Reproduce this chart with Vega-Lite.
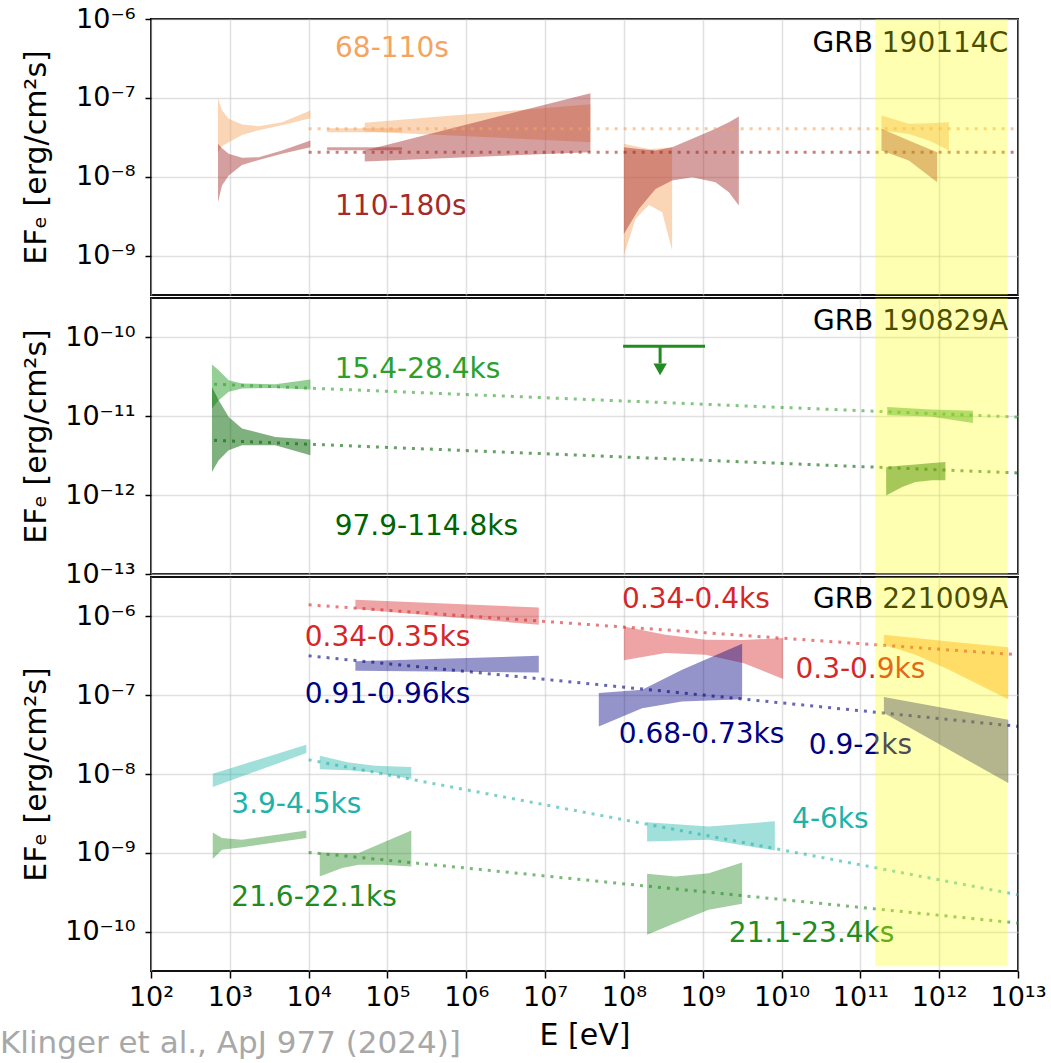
{
"$schema": "https://vega.github.io/schema/vega-lite/v6.json",
"background": "white",
"padding": {"left": 0, "top": 4, "right": 0, "bottom": 0},
"title": {"text": "Klinger et al., ApJ 977 (2024)]", "orient": "bottom", "anchor": "start", "frame": "bounds", "fontSize": 31, "font": "DejaVu Sans", "fontWeight": "normal", "color": "#a8a8a8", "dx": -20, "offset": -22},
"spacing": 3,
"bounds": "flush",
"datasets": {
"areas": [
{"p":1,"id":"o1","s":"o","E":708,"hi":9.91e-8,"lo":2.05e-8},{"p":1,"id":"o1","s":"o","E":796,"hi":6.98e-8,"lo":2.44e-8},{"p":1,"id":"o1","s":"o","E":968,"hi":5.42e-8,"lo":2.74e-8},{"p":1,"id":"o1","s":"o","E":1429,"hi":4.59e-8,"lo":3.39e-8},{"p":1,"id":"o1","s":"o","E":2328,"hi":4.38e-8,"lo":3.89e-8},{"p":1,"id":"o1","s":"o","E":4592,"hi":4.92e-8,"lo":4.51e-8},{"p":1,"id":"o1","s":"o","E":10520,"hi":6.92e-8,"lo":5.52e-8},
{"p":1,"id":"r1","s":"r","E":708,"hi":2.61e-8,"lo":4.74e-9},{"p":1,"id":"r1","s":"r","E":796,"hi":2.30e-8,"lo":7.73e-9},{"p":1,"id":"r1","s":"r","E":968,"hi":1.95e-8,"lo":1.035e-8},{"p":1,"id":"r1","s":"r","E":1429,"hi":1.74e-8,"lo":1.41e-8},{"p":1,"id":"r1","s":"r","E":2328,"hi":1.77e-8,"lo":1.63e-8},{"p":1,"id":"r1","s":"r","E":4592,"hi":2.15e-8,"lo":1.95e-8},{"p":1,"id":"r1","s":"r","E":10520,"hi":2.88e-8,"lo":2.37e-8},
{"p":1,"id":"o2","s":"o","E":17140,"hi":4.12e-8,"lo":3.67e-8},{"p":1,"id":"o2","s":"o","E":153100,"hi":4.12e-8,"lo":3.67e-8},
{"p":1,"id":"r2","s":"r","E":17140,"hi":2.37e-8,"lo":2.17e-8},{"p":1,"id":"r2","s":"r","E":153100,"hi":2.37e-8,"lo":2.17e-8},
{"p":1,"id":"o3","s":"o","E":51520,"hi":4.82e-8,"lo":3.75e-8},{"p":1,"id":"o3","s":"o","E":3.758e7,"hi":8.32e-8,"lo":2.74e-8},
{"p":1,"id":"r3","s":"r","E":51520,"hi":2.15e-8,"lo":1.56e-8},{"p":1,"id":"r3","s":"r","E":3.758e7,"hi":1.148e-7,"lo":2.05e-8},
{"p":1,"id":"o4","s":"o","E":1e8,"hi":2.61e-8,"lo":1e-9},{"p":1,"id":"o4","s":"o","E":1.403e8,"hi":2.44e-8,"lo":2.91e-9},{"p":1,"id":"o4","s":"o","E":2.075e8,"hi":2.25e-8,"lo":4.39e-9},{"p":1,"id":"o4","s":"o","E":3.06e8,"hi":2.30e-8,"lo":3.54e-9},{"p":1,"id":"o4","s":"o","E":4.09e8,"hi":2.37e-8,"lo":1.156e-9},
{"p":1,"id":"r4","s":"r","E":1e8,"hi":2.37e-8,"lo":1.88e-9},{"p":1,"id":"r4","s":"r","E":1.549e8,"hi":2.25e-8,"lo":3.9e-9},{"p":1,"id":"r4","s":"r","E":2.518e8,"hi":2.15e-8,"lo":7.0e-9},{"p":1,"id":"r4","s":"r","E":4.09e8,"hi":2.37e-8,"lo":8.95e-9},{"p":1,"id":"r4","s":"r","E":7.35e8,"hi":3.02e-8,"lo":9.86e-9},{"p":1,"id":"r4","s":"r","E":1.452e9,"hi":4.05e-8,"lo":8.51e-9},{"p":1,"id":"r4","s":"r","E":2.148e9,"hi":4.92e-8,"lo":6.35e-9},{"p":1,"id":"r4","s":"r","E":2.871e9,"hi":5.81e-8,"lo":4.32e-9},
{"p":1,"id":"o5","s":"o","E":1.854e11,"hi":5.98e-8,"lo":3.85e-8},{"p":1,"id":"o5","s":"o","E":4.12e11,"hi":4.68e-8,"lo":3.49e-8},{"p":1,"id":"o5","s":"o","E":7.4e11,"hi":4.78e-8,"lo":2.88e-8},{"p":1,"id":"o5","s":"o","E":1.327e12,"hi":4.91e-8,"lo":2.15e-8},
{"p":1,"id":"r5","s":"r","E":1.854e11,"hi":4.05e-8,"lo":2.15e-8},{"p":1,"id":"r5","s":"r","E":4.12e11,"hi":2.88e-8,"lo":1.61e-8},{"p":1,"id":"r5","s":"r","E":9.44e11,"hi":2.05e-8,"lo":8.51e-9},
{"p":2,"id":"g1","s":"lg","E":594,"hi":4.53e-11,"lo":1.253e-11},{"p":2,"id":"g1","s":"lg","E":723,"hi":3.84e-11,"lo":1.596e-11},{"p":2,"id":"g1","s":"lg","E":968,"hi":2.86e-11,"lo":2.04e-11},{"p":2,"id":"g1","s":"lg","E":1429,"hi":2.6e-11,"lo":2.25e-11},{"p":2,"id":"g1","s":"lg","E":3776,"hi":2.55e-11,"lo":2.29e-11},{"p":2,"id":"g1","s":"lg","E":10520,"hi":2.92e-11,"lo":2.18e-11},
{"p":2,"id":"d1","s":"dg","E":594,"hi":2.36e-11,"lo":1.968e-12},{"p":2,"id":"d1","s":"dg","E":723,"hi":1.596e-11,"lo":2.77e-12},{"p":2,"id":"d1","s":"dg","E":968,"hi":9.82e-12,"lo":3.71e-12},{"p":2,"id":"d1","s":"dg","E":1429,"hi":6.98e-12,"lo":4.29e-12},{"p":2,"id":"d1","s":"dg","E":3776,"hi":5.47e-12,"lo":4.29e-12},{"p":2,"id":"d1","s":"dg","E":10520,"hi":5.06e-12,"lo":3.2e-12},
{"p":2,"id":"g2","s":"lg","E":2.188e11,"hi":1.315e-11,"lo":1.03e-11},{"p":2,"id":"g2","s":"lg","E":7.69e11,"hi":1.216e-11,"lo":9.91e-12},{"p":2,"id":"g2","s":"lg","E":2.68e12,"hi":1.172e-11,"lo":8.24e-12},
{"p":2,"id":"d2","s":"dg","E":2.123e11,"hi":2.28e-12,"lo":9.93e-13},{"p":2,"id":"d2","s":"dg","E":3.39e11,"hi":2.37e-12,"lo":1.27e-12},{"p":2,"id":"d2","s":"dg","E":5.0e11,"hi":2.44e-12,"lo":1.47e-12},{"p":2,"id":"d2","s":"dg","E":8.15e11,"hi":2.55e-12,"lo":1.54e-12},{"p":2,"id":"d2","s":"dg","E":1.2e12,"hi":2.64e-12,"lo":1.54e-12},
{"p":3,"id":"R1","s":"R","E":39170,"hi":1.626e-6,"lo":1.239e-6},{"p":3,"id":"R1","s":"R","E":8.318e6,"hi":1.3e-6,"lo":7.82e-7},
{"p":3,"id":"R2","s":"R","E":1e8,"hi":7.46e-7,"lo":2.77e-7},{"p":3,"id":"R2","s":"R","E":3.365e8,"hi":5.85e-7,"lo":3.42e-7},{"p":3,"id":"R2","s":"R","E":1.084e9,"hi":5.05e-7,"lo":3.26e-7},{"p":3,"id":"R2","s":"R","E":3.327e9,"hi":5.0e-7,"lo":2.55e-7},{"p":3,"id":"R2","s":"R","E":1.047e10,"hi":5.31e-7,"lo":1.6e-7},
{"p":3,"id":"B1","s":"B","E":39170,"hi":2.69e-7,"lo":2.04e-7},{"p":3,"id":"B1","s":"B","E":8.318e6,"hi":3.16e-7,"lo":1.945e-7},
{"p":3,"id":"B2","s":"B","E":4.8e7,"hi":1.064e-7,"lo":4.02e-8},{"p":3,"id":"B2","s":"B","E":1.702e8,"hi":1.172e-7,"lo":6.85e-8},{"p":3,"id":"B2","s":"B","E":5.47e8,"hi":2.1e-7,"lo":8.34e-8},{"p":3,"id":"B2","s":"B","E":3.162e9,"hi":4.49e-7,"lo":8.91e-8},
{"p":3,"id":"O1","s":"O","E":1.986e11,"hi":5.85e-7,"lo":4.37e-7},{"p":3,"id":"O1","s":"O","E":5.0e11,"hi":5.31e-7,"lo":3.26e-7},{"p":3,"id":"O1","s":"O","E":1.327e12,"hi":4.79e-7,"lo":2.1e-7},{"p":3,"id":"O1","s":"O","E":7.52e12,"hi":4.07e-7,"lo":8.91e-8},
{"p":3,"id":"B3","s":"B","E":1.986e11,"hi":9.46e-8,"lo":5.93e-8},{"p":3,"id":"B3","s":"B","E":7.52e12,"hi":4.88e-8,"lo":7.67e-9},
{"p":3,"id":"T1","s":"T","E":607,"hi":1.007e-8,"lo":6.82e-9},{"p":3,"id":"T1","s":"T","E":9354,"hi":2.35e-8,"lo":1.845e-8},
{"p":3,"id":"T2","s":"T","E":13840,"hi":1.7e-8,"lo":1.153e-8},{"p":3,"id":"T2","s":"T","E":32280,"hi":1.403e-8,"lo":1.112e-8},{"p":3,"id":"T2","s":"T","E":70150,"hi":1.271e-8,"lo":1.047e-8},{"p":3,"id":"T2","s":"T","E":200900,"hi":1.225e-8,"lo":8.61e-9},
{"p":3,"id":"T3","s":"T","E":1.968e8,"hi":2.45e-9,"lo":1.396e-9},{"p":3,"id":"T3","s":"T","E":1.194e9,"hi":2.16e-9,"lo":1.462e-9},{"p":3,"id":"T3","s":"T","E":8.22e9,"hi":2.51e-9,"lo":1.072e-9},
{"p":3,"id":"G1","s":"G","E":607,"hi":1.816e-9,"lo":8.32e-10},{"p":3,"id":"G1","s":"G","E":796,"hi":1.538e-9,"lo":1.091e-9},{"p":3,"id":"G1","s":"G","E":1429,"hi":1.462e-9,"lo":1.18e-9},{"p":3,"id":"G1","s":"G","E":9354,"hi":1.923e-9,"lo":1.538e-9},
{"p":3,"id":"G2","s":"G","E":13840,"hi":1.012e-9,"lo":5.02e-10},{"p":3,"id":"G2","s":"G","E":26550,"hi":9.91e-10,"lo":6.4e-10},{"p":3,"id":"G2","s":"G","E":43250,"hi":9.91e-10,"lo":7.05e-10},{"p":3,"id":"G2","s":"G","E":85310,"hi":1.327e-9,"lo":7.05e-10},{"p":3,"id":"G2","s":"G","E":200900,"hi":1.923e-9,"lo":6.71e-10},
{"p":3,"id":"G3","s":"G","E":1.968e8,"hi":5.42e-10,"lo":9.1e-11},{"p":3,"id":"G3","s":"G","E":4.51e8,"hi":5.02e-10,"lo":1.282e-10},{"p":3,"id":"G3","s":"G","E":1.194e9,"hi":5.52e-10,"lo":1.892e-10},{"p":3,"id":"G3","s":"G","E":3.162e9,"hi":7.55e-10,"lo":2.25e-10}
],
"lines": [
{"p":1,"id":"lo","s":"o","E":1e4,"v":4.05e-8},{"p":1,"id":"lo","s":"o","E":1e13,"v":4.05e-8},
{"p":1,"id":"lr","s":"r","E":1e4,"v":2.05e-8},{"p":1,"id":"lr","s":"r","E":1e13,"v":2.05e-8},
{"p":2,"id":"llg","s":"lg","E":631,"v":2.55e-11},{"p":2,"id":"llg","s":"lg","E":1e13,"v":9.77e-12},
{"p":2,"id":"ldg","s":"dg","E":631,"v":4.95e-12},{"p":2,"id":"ldg","s":"dg","E":1e13,"v":1.91e-12},
{"p":3,"id":"lR","s":"R","E":1e4,"v":1.403e-6},{"p":3,"id":"lR","s":"R","E":1e13,"v":3.26e-7},
{"p":3,"id":"lB","s":"B","E":1e4,"v":3.16e-7},{"p":3,"id":"lB","s":"B","E":1e13,"v":4.02e-8},
{"p":3,"id":"lT","s":"T","E":1e4,"v":1.514e-8},{"p":3,"id":"lT","s":"T","E":1e13,"v":2.93e-10},
{"p":3,"id":"lG","s":"G","E":1e4,"v":1.012e-9},{"p":3,"id":"lG","s":"G","E":1e13,"v":1.282e-10}
],
"labels": [
{"p":1,"t":"68-110s","s":"o","E":21630,"v":4.19e-7},{"p":1,"t":"110-180s","s":"r","E":21630,"v":4.10e-9},
{"p":2,"t":"15.4-28.4ks","s":"lg","E":21430,"v":3.92e-11},{"p":2,"t":"97.9-114.8ks","s":"dg","E":21430,"v":3.94e-13},
{"p":3,"t":"0.34-0.35ks","s":"R","E":8933,"v":5.31e-7},{"p":3,"t":"0.91-0.96ks","s":"B","E":8933,"v":1.012e-7},
{"p":3,"t":"0.34-0.4ks","s":"R","E":9.48e7,"v":1.596e-6},{"p":3,"t":"0.3-0.9ks","s":"R","E":1.5e10,"v":2.1e-7},
{"p":3,"t":"0.68-0.73ks","s":"B","E":8.61e7,"v":3.14e-8},{"p":3,"t":"0.9-2ks","s":"B","E":2.218e10,"v":2.24e-8},
{"p":3,"t":"3.9-4.5ks","s":"T","E":1045,"v":4.06e-9},{"p":3,"t":"21.6-22.1ks","s":"G","E":1045,"v":2.66e-10},
{"p":3,"t":"4-6ks","s":"T","E":1.36e10,"v":2.58e-9},{"p":3,"t":"21.1-23.4ks","s":"G","E":2.143e9,"v":9.37e-11}
],
"grb": [
{"p":1,"t":"GRB 190114C","E":7.52e12,"v":4.83e-7},
{"p":2,"t":"GRB 190829A","E":7.52e12,"v":1.578e-10},
{"p":3,"t":"GRB 221009A","E":7.52e12,"v":1.596e-6}
],
"band": [
{"p":1,"E1":1.549e11,"E2":7.41e12,"hi":1e-6,"lo":3.1623e-10},
{"p":2,"E1":1.549e11,"E2":7.41e12,"hi":3.1623e-10,"lo":1e-13},
{"p":3,"E1":1.549e11,"E2":7.41e12,"hi":3.1623e-6,"lo":3.63e-11}
],
"ul": [
{"E1":9.77e7,"E2":1.07e9,"Ea":2.88e8,"v":7.73e-11,"v2":4.68e-11,"vt":3.94e-11}
]
},
"vconcat": [
{
"width": 867, "height": 276,
"layer": [
{"data":{"name":"areas"},"transform":[{"filter":"datum.p == 1"}],"mark":{"type":"area","opacity":0.45},
"encoding":{
"x":{"field":"E","type":"quantitative","scale":{"type":"log","domain":[100,1e13],"nice":false},"axis":{"values":[100,1000,1e4,1e5,1e6,1e7,1e8,1e9,1e10,1e11,1e12,1e13],"labels":false,"ticks":false,"title":null,"grid":true}},
"y":{"field":"hi","type":"quantitative","stack":null,"scale":{"type":"log","domain":[3.1623e-10,1e-6],"nice":false},"axis":{"values":[1e-9,1e-8,1e-7,1e-6],"labelExpr":"'10' + (datum.value < 1 ? '⁻' : '') + (abs(round(log(datum.value) / LN10)) >= 10 ? ['⁰','¹','²','³','⁴','⁵','⁶','⁷','⁸','⁹'][floor(abs(round(log(datum.value) / LN10)) / 10)] : '') + ['⁰','¹','²','³','⁴','⁵','⁶','⁷','⁸','⁹'][abs(round(log(datum.value) / LN10)) % 10]","title":"EFₑ [erg/cm²s]"}},
"y2":{"field":"lo"},
"detail":{"field":"id"},
"color":{"field":"s","type":"nominal","legend":null,"scale":{"domain":["o","r","lg","dg","R","B","O","T","G"],"range":["#f4a460","#a52a2a","#2ca02c","#006400","#d62728","#000080","#ff8c00","#20b2aa","#228b22"]}}}},
{"data":{"name":"lines"},"transform":[{"filter":"datum.p == 1"}],"mark":{"type":"line","strokeDash":[3,6],"strokeWidth":3,"opacity":0.6},
"encoding":{"x":{"field":"E","type":"quantitative"},"y":{"field":"v","type":"quantitative"},"detail":{"field":"id"},"color":{"field":"s","type":"nominal","legend":null}}},
{"data":{"name":"labels"},"transform":[{"filter":"datum.p == 1"}],"mark":{"type":"text","align":"left","baseline":"middle","fontSize":28},
"encoding":{"x":{"field":"E","type":"quantitative"},"y":{"field":"v","type":"quantitative"},"text":{"field":"t"},"color":{"field":"s","type":"nominal","legend":null}}},
{"data":{"name":"grb"},"transform":[{"filter":"datum.p == 1"}],"mark":{"type":"text","align":"right","baseline":"middle","fontSize":28,"color":"#000"},
"encoding":{"x":{"field":"E","type":"quantitative"},"y":{"field":"v","type":"quantitative"},"text":{"field":"t"}}},
{"data":{"name":"band"},"transform":[{"filter":"datum.p == 1"}],"mark":{"type":"rect","color":"#ffff00","opacity":0.3},
"encoding":{"x":{"field":"E1","type":"quantitative"},"x2":{"field":"E2"},"y":{"field":"hi","type":"quantitative"},"y2":{"field":"lo"}}}
]
},
{
"width": 867, "height": 276,
"layer": [
{"data":{"name":"areas"},"transform":[{"filter":"datum.p == 2"}],"mark":{"type":"area","opacity":0.5},
"encoding":{
"x":{"field":"E","type":"quantitative","scale":{"type":"log","domain":[100,1e13],"nice":false},"axis":{"values":[100,1000,1e4,1e5,1e6,1e7,1e8,1e9,1e10,1e11,1e12,1e13],"labels":false,"ticks":false,"title":null,"grid":true}},
"y":{"field":"hi","type":"quantitative","stack":null,"scale":{"type":"log","domain":[1e-13,3.1623e-10],"nice":false},"axis":{"values":[1e-13,1e-12,1e-11,1e-10],"labelExpr":"'10' + (datum.value < 1 ? '⁻' : '') + (abs(round(log(datum.value) / LN10)) >= 10 ? ['⁰','¹','²','³','⁴','⁵','⁶','⁷','⁸','⁹'][floor(abs(round(log(datum.value) / LN10)) / 10)] : '') + ['⁰','¹','²','³','⁴','⁵','⁶','⁷','⁸','⁹'][abs(round(log(datum.value) / LN10)) % 10]","title":"EFₑ [erg/cm²s]"}},
"y2":{"field":"lo"},
"detail":{"field":"id"},
"color":{"field":"s","type":"nominal","legend":null,"scale":{"domain":["o","r","lg","dg","R","B","O","T","G"],"range":["#f4a460","#a52a2a","#2ca02c","#006400","#d62728","#000080","#ff8c00","#20b2aa","#228b22"]}}}},
{"data":{"name":"lines"},"transform":[{"filter":"datum.p == 2"}],"mark":{"type":"line","strokeDash":[3,6],"strokeWidth":3,"opacity":0.6},
"encoding":{"x":{"field":"E","type":"quantitative"},"y":{"field":"v","type":"quantitative"},"detail":{"field":"id"},"color":{"field":"s","type":"nominal","legend":null}}},
{"data":{"name":"ul"},"mark":{"type":"rule","color":"#228b22","strokeWidth":3},
"encoding":{"x":{"field":"E1","type":"quantitative"},"x2":{"field":"E2"},"y":{"field":"v","type":"quantitative"}}},
{"data":{"name":"ul"},"mark":{"type":"rule","color":"#228b22","strokeWidth":3},
"encoding":{"x":{"field":"Ea","type":"quantitative"},"y":{"field":"v","type":"quantitative"},"y2":{"field":"v2"}}},
{"data":{"name":"ul"},"mark":{"type":"point","shape":"triangle-down","filled":true,"color":"#228b22","opacity":1,"size":180},
"encoding":{"x":{"field":"Ea","type":"quantitative"},"y":{"field":"vt","type":"quantitative"}}},
{"data":{"name":"labels"},"transform":[{"filter":"datum.p == 2"}],"mark":{"type":"text","align":"left","baseline":"middle","fontSize":28},
"encoding":{"x":{"field":"E","type":"quantitative"},"y":{"field":"v","type":"quantitative"},"text":{"field":"t"},"color":{"field":"s","type":"nominal","legend":null}}},
{"data":{"name":"grb"},"transform":[{"filter":"datum.p == 2"}],"mark":{"type":"text","align":"right","baseline":"middle","fontSize":28,"color":"#000"},
"encoding":{"x":{"field":"E","type":"quantitative"},"y":{"field":"v","type":"quantitative"},"text":{"field":"t"}}},
{"data":{"name":"band"},"transform":[{"filter":"datum.p == 2"}],"mark":{"type":"rect","color":"#ffff00","opacity":0.3},
"encoding":{"x":{"field":"E1","type":"quantitative"},"x2":{"field":"E2"},"y":{"field":"hi","type":"quantitative"},"y2":{"field":"lo"}}}
]
},
{
"width": 867, "height": 394,
"layer": [
{"data":{"name":"areas"},"transform":[{"filter":"datum.p == 3"}],"mark":{"type":"area","opacity":0.42},
"encoding":{
"x":{"field":"E","type":"quantitative","scale":{"type":"log","domain":[100,1e13],"nice":false},"axis":{"values":[100,1000,1e4,1e5,1e6,1e7,1e8,1e9,1e10,1e11,1e12,1e13],"labelExpr":"'10' + (datum.value < 1 ? '⁻' : '') + (abs(round(log(datum.value) / LN10)) >= 10 ? ['⁰','¹','²','³','⁴','⁵','⁶','⁷','⁸','⁹'][floor(abs(round(log(datum.value) / LN10)) / 10)] : '') + ['⁰','¹','²','³','⁴','⁵','⁶','⁷','⁸','⁹'][abs(round(log(datum.value) / LN10)) % 10]","title":"E [eV]","ticks":true,"tickSize":7,"labelPadding":6,"titlePadding":10}},
"y":{"field":"hi","type":"quantitative","stack":null,"scale":{"type":"log","domain":[3.1623e-11,3.1623e-6],"nice":false},"axis":{"values":[1e-10,1e-9,1e-8,1e-7,1e-6],"labelExpr":"'10' + (datum.value < 1 ? '⁻' : '') + (abs(round(log(datum.value) / LN10)) >= 10 ? ['⁰','¹','²','³','⁴','⁵','⁶','⁷','⁸','⁹'][floor(abs(round(log(datum.value) / LN10)) / 10)] : '') + ['⁰','¹','²','³','⁴','⁵','⁶','⁷','⁸','⁹'][abs(round(log(datum.value) / LN10)) % 10]","title":"EFₑ [erg/cm²s]"}},
"y2":{"field":"lo"},
"detail":{"field":"id"},
"color":{"field":"s","type":"nominal","legend":null,"scale":{"domain":["o","r","lg","dg","R","B","O","T","G"],"range":["#f4a460","#a52a2a","#2ca02c","#006400","#d62728","#000080","#ff8c00","#20b2aa","#228b22"]}}}},
{"data":{"name":"lines"},"transform":[{"filter":"datum.p == 3"}],"mark":{"type":"line","strokeDash":[3,6],"strokeWidth":3,"opacity":0.6},
"encoding":{"x":{"field":"E","type":"quantitative"},"y":{"field":"v","type":"quantitative"},"detail":{"field":"id"},"color":{"field":"s","type":"nominal","legend":null}}},
{"data":{"name":"labels"},"transform":[{"filter":"datum.p == 3"}],"mark":{"type":"text","align":"left","baseline":"middle","fontSize":28},
"encoding":{"x":{"field":"E","type":"quantitative"},"y":{"field":"v","type":"quantitative"},"text":{"field":"t"},"color":{"field":"s","type":"nominal","legend":null}}},
{"data":{"name":"grb"},"transform":[{"filter":"datum.p == 3"}],"mark":{"type":"text","align":"right","baseline":"middle","fontSize":28,"color":"#000"},
"encoding":{"x":{"field":"E","type":"quantitative"},"y":{"field":"v","type":"quantitative"},"text":{"field":"t"}}},
{"data":{"name":"band"},"transform":[{"filter":"datum.p == 3"}],"mark":{"type":"rect","color":"#ffff00","opacity":0.3},
"encoding":{"x":{"field":"E1","type":"quantitative"},"x2":{"field":"E2"},"y":{"field":"hi","type":"quantitative"},"y2":{"field":"lo"}}}
]
}
],
"config": {
"font": "DejaVu Sans",
"view": {"stroke": "#111", "strokeWidth": 2},
"axis": {"grid": true, "gridColor": "#c8c8c8", "gridOpacity": 0.55, "gridWidth": 1.5, "domain": false, "labelFont": "DejaVu Sans", "labelFontSize": 27, "labelColor": "#000", "labelOverlap": false, "labelFlush": false, "titleFont": "DejaVu Sans", "titleFontSize": 30, "titleFontWeight": "normal", "titleColor": "#000", "tickColor": "#000", "tickWidth": 1.5},
"axisY": {"tickSize": 6, "labelPadding": 10, "minExtent": 97, "maxExtent": 97, "titlePadding": 3},
"text": {"font": "DejaVu Sans"}
}
}
